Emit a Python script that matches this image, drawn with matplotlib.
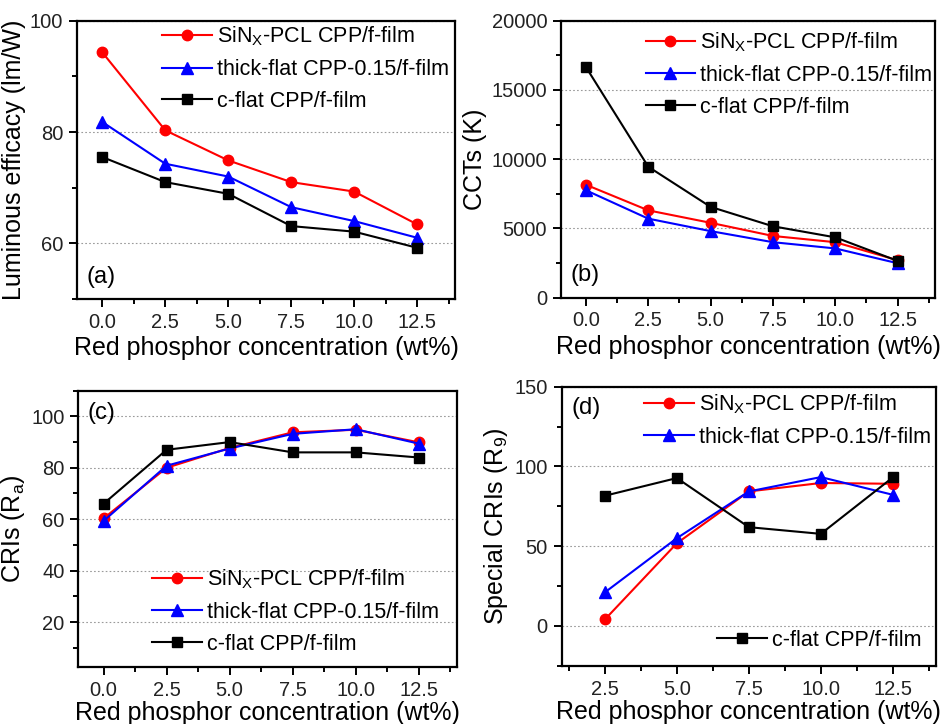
import matplotlib
matplotlib.use('Agg')
import matplotlib.pyplot as plt
import matplotlib.ticker as tk
from matplotlib import rcParams

rcParams['font.family'] = ['Liberation Sans', 'DejaVu Sans']
rcParams['mathtext.fontset'] = 'custom'
rcParams['mathtext.rm'] = 'Liberation Sans'

CONC = [0.0, 2.5, 5.0, 7.5, 10.0, 12.5]
CONC_R9 = [2.5, 5.0, 7.5, 10.0, 12.5]

LABEL_SIN = r'SiN$_\mathregular{X}$-PCL CPP/f-film'
LABEL_THICK = 'thick-flat CPP-0.15/f-film'
LABEL_CFLAT = 'c-flat CPP/f-film'

# luminous efficacy (lm/W)
LE_SIN = [94.3, 80.3, 74.9, 71.0, 69.3, 63.4]
LE_THICK = [81.8, 74.3, 72.0, 66.5, 64.0, 61.0]
LE_CFLAT = [75.5, 71.0, 68.9, 63.1, 62.1, 59.2]

# correlated colour temperature (K)
CCT_SIN = [8150, 6300, 5400, 4450, 4000, 2700]
CCT_THICK = [7750, 5700, 4800, 4000, 3550, 2480]
CCT_CFLAT = [16650, 9450, 6550, 5150, 4350, 2650]

# general colour rendering index Ra
RA_SIN = [60.3, 80.0, 87.7, 93.8, 94.8, 89.9]
RA_THICK = [59.3, 80.8, 87.5, 93.2, 95.0, 89.4]
RA_CFLAT = [66.0, 87.0, 90.0, 86.0, 86.0, 84.0]

# special colour rendering index R9
R9_SIN = [4.0, 51.8, 84.3, 89.6, 89.1]
R9_THICK = [21.0, 55.0, 84.3, 93.3, 82.2]
R9_CFLAT = [81.6, 92.7, 61.9, 57.7, 93.1]

XLABEL = 'Red phosphor concentration (wt%)'
LABEL_SIZE = 18
TICK_SIZE = 14.5
LEGEND_SIZE = 15.5

STYLE_SIN = dict(color='#ff0000', marker='o', markersize=7.5, lw=1.5)
STYLE_THICK = dict(color='#0000ff', marker='^', markersize=9, lw=1.5)
STYLE_CFLAT = dict(color='black', marker='s', markersize=7.5, lw=1.5)

LEGEND_KW = dict(
    frameon=False, fontsize=LEGEND_SIZE, handlelength=2.3,
    handletextpad=0.25, borderpad=0, borderaxespad=0, labelspacing=0.5,
)


def style_axis(ax, xlim, ylim, ymajor, yminor, ylabel, tag, tag_y, xpad=3):
    ax.set_xlim(*xlim)
    ax.set_ylim(*ylim)
    ax.xaxis.set_major_locator(tk.MultipleLocator(2.5))
    ax.xaxis.set_minor_locator(tk.MultipleLocator(1.25))
    ax.xaxis.set_major_formatter(tk.FormatStrFormatter('%.1f'))
    ax.yaxis.set_major_locator(tk.MultipleLocator(ymajor))
    ax.yaxis.set_minor_locator(tk.MultipleLocator(yminor))
    ax.tick_params(which='both', direction='out', top=False, right=False,
                   width=1.4, labelsize=TICK_SIZE, labelcolor='#222')
    ax.tick_params(which='major', length=6, pad=4)
    ax.tick_params(which='minor', length=3.5)
    for sp in ax.spines.values():
        sp.set_linewidth(1.6)
    ax.yaxis.grid(True, linestyle=(0, (1.5, 2)), color='#9a9a9a', lw=0.8)
    ax.set_axisbelow(True)
    ax.set_xlabel(XLABEL, fontsize=LABEL_SIZE, labelpad=xpad)
    ax.set_ylabel(ylabel, fontsize=LABEL_SIZE, labelpad=3)
    ax.text(0.025, tag_y, tag, transform=ax.transAxes, fontsize=17,
            va='center', ha='left')


fig = plt.figure(figsize=(9.41, 7.24), dpi=100)

# (a) luminous efficacy
ax = fig.add_axes([0.082, 0.587, 0.4015, 0.3844])
ax.plot(CONC, LE_SIN, label=LABEL_SIN, **STYLE_SIN)
ax.plot(CONC, LE_THICK, label=LABEL_THICK, **STYLE_THICK)
ax.plot(CONC, LE_CFLAT, label=LABEL_CFLAT, **STYLE_CFLAT)
style_axis(ax, (-1, 14), (50, 100), 20, 10,
           'Luminous efficacy (lm/W)', '(a)', 0.08)
ax.legend(loc='upper left', bbox_to_anchor=(0.225, 0.985), **LEGEND_KW)

# (b) CCT
ax = fig.add_axes([0.5962, 0.589, 0.3974, 0.3824])
ax.plot(CONC, CCT_SIN, label=LABEL_SIN, **STYLE_SIN)
ax.plot(CONC, CCT_THICK, label=LABEL_THICK, **STYLE_THICK)
ax.plot(CONC, CCT_CFLAT, label=LABEL_CFLAT, **STYLE_CFLAT)
style_axis(ax, (-1, 14), (0, 20000), 5000, 2500, 'CCTs (K)', '(b)', 0.08)
ax.legend(loc='upper left', bbox_to_anchor=(0.226, 0.965), **LEGEND_KW)

# (c) CRI Ra
ax = fig.add_axes([0.0832, 0.0787, 0.4021, 0.3817])
ax.plot(CONC, RA_SIN, label=LABEL_SIN, **STYLE_SIN)
ax.plot(CONC, RA_THICK, label=LABEL_THICK, **STYLE_THICK)
ax.plot(CONC, RA_CFLAT, label=LABEL_CFLAT, **STYLE_CFLAT)
style_axis(ax, (-1, 14), (2.5, 110), 20, 10,
           r'CRIs (R$_\mathregular{a}$)', '(c)', 0.918, xpad=1)
ax.legend(loc='upper left', bbox_to_anchor=(0.195, 0.36), **LEGEND_KW)

# (d) special CRI R9
ax = fig.add_axes([0.5969, 0.0805, 0.3978, 0.3854])
l_sin, = ax.plot(CONC_R9, R9_SIN, label=LABEL_SIN, **STYLE_SIN)
l_thick, = ax.plot(CONC_R9, R9_THICK, label=LABEL_THICK, **STYLE_THICK)
l_cflat, = ax.plot(CONC_R9, R9_CFLAT, label=LABEL_CFLAT, **STYLE_CFLAT)
style_axis(ax, (1, 14), (-25, 150), 50, 25,
           r'Special CRIs (R$_\mathregular{9}$)', '(d)', 0.922, xpad=1)
leg = ax.legend(handles=[l_sin, l_thick], loc='upper left',
                bbox_to_anchor=(0.22, 0.98), **LEGEND_KW)
ax.add_artist(leg)
ax.legend(handles=[l_cflat], loc='center left',
          bbox_to_anchor=(0.415, 0.092), **LEGEND_KW)

fig.savefig('out.png', dpi=100)
